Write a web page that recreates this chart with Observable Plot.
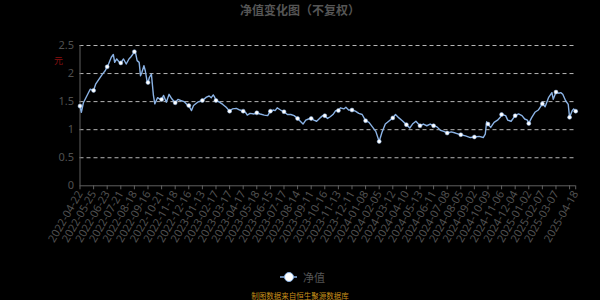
<!DOCTYPE html>
<html>
<head>
<meta charset="utf-8">
<script src="https://cdn.jsdelivr.net/npm/d3@7"></script>
<script src="https://cdn.jsdelivr.net/npm/@observablehq/plot@0.6"></script>
<style>
  html, body { margin: 0; padding: 0; background: #000; }
  #wrap { position: relative; width: 600px; height: 300px; background: #000; overflow: hidden;
          font-family: "Noto Sans CJK SC", "Noto Sans", sans-serif; }
  #wrap svg { position: absolute; left: 0; top: 0; }
  .title { position: absolute; left: 0; width: 600px; top: 1px; text-align: center;
           font-size: 12px; font-weight: bold; color: #555; }
  .legend { position: absolute; top: 269px; left: 280px; height: 16px; font-size: 11px; color: #555; }
  .footer { position: absolute; left: 0; width: 600px; top: 290px; text-align: center;
            font-size: 7.5px; color: #c8901a; }
</style>
</head>
<body>
<div id="wrap">
  <div class="title">净值变化图（不复权）</div>
</div>
<script>
// trading-day index (0 = 2022-04-22) and net asset value
const dayIndex = [0,2,5,10,15,20,23,28,33,37,40,42,46,49,51,54,58,60,64,68,72,75,78,80,82,84,87,89,91,94,96,99,100,102,105,108,110,114,117,120,123,127,131,135,140,144,148,153,158,160,164,167,173,180,186,190,193,196,198,200,205,210,215,220,224,230,235,240,244,246,250,256,260,265,271,276,280,284,287,290,295,300,305,310,315,320,324,328,332,336,340,344,348,353,357,360,364,368,372,376,380,383,388,391,395,400,405,410,415,420,425,430,435,440,444,449,454,460,464,469,474,480,485,489,494,500,505,510,515,520,525,530,535,540,546,552,560,567,574,580,587,593,596,598,600,604,609,614,618,620,626,629,634,640,645,650,654,658,660,664,669,674,680,684,689,694,696,700,704,707,710,714,718,720,724,726,729];
const nav = [1.42,1.31,1.48,1.60,1.72,1.70,1.81,1.90,1.99,2.05,2.12,2.17,2.29,2.34,2.20,2.26,2.20,2.19,2.26,2.17,2.26,2.30,2.35,2.39,2.35,2.23,2.20,1.96,2.02,2.14,2.05,1.84,1.84,1.93,1.99,1.61,1.46,1.57,1.55,1.54,1.61,1.49,1.63,1.55,1.48,1.54,1.52,1.50,1.44,1.43,1.34,1.43,1.49,1.52,1.58,1.60,1.57,1.62,1.58,1.52,1.49,1.45,1.40,1.33,1.37,1.38,1.35,1.33,1.30,1.26,1.29,1.28,1.30,1.28,1.26,1.25,1.33,1.35,1.34,1.39,1.35,1.32,1.27,1.27,1.25,1.20,1.15,1.10,1.17,1.19,1.20,1.17,1.15,1.21,1.25,1.25,1.20,1.23,1.27,1.34,1.34,1.39,1.37,1.40,1.35,1.35,1.33,1.29,1.27,1.16,1.13,1.05,0.97,0.79,0.95,1.10,1.15,1.21,1.27,1.21,1.16,1.09,1.03,1.10,1.15,1.07,1.10,1.07,1.10,1.07,1.05,0.99,0.97,0.94,0.96,0.94,0.91,0.89,0.86,0.87,0.88,0.86,0.92,1.14,1.10,1.04,1.13,1.17,1.22,1.27,1.25,1.17,1.15,1.25,1.28,1.25,1.19,1.17,1.11,1.21,1.31,1.35,1.46,1.41,1.57,1.66,1.54,1.67,1.65,1.66,1.63,1.52,1.45,1.22,1.34,1.37,1.33];
// x tick labels (every 20 trading days, plus the last day)
const tickIndex = [0,20,40,60,80,100,120,140,160,180,200,220,240,260,280,300,320,340,360,380,400,420,440,460,480,500,520,540,560,580,600,620,640,660,680,700,720,729];
const tickLabels = ["2022-04-22","2022-05-25","2022-06-23","2022-07-21","2022-08-18","2022-09-16","2022-10-21","2022-11-18","2022-12-16","2023-01-13","2023-02-17","2023-03-17","2023-04-17","2023-05-18","2023-06-15","2023-07-17","2023-08-14","2023-09-11","2023-10-16","2023-11-13","2023-12-11","2024-01-08","2024-02-05","2024-03-12","2024-04-10","2024-05-13","2024-06-11","2024-07-08","2024-08-05","2024-09-02","2024-10-09","2024-11-06","2024-12-04","2025-01-02","2025-02-07","2025-03-07","","2025-04-18"];
const yTicks = [0, 0.5, 1, 1.5, 2, 2.5];
const seriesName = "净值";
const unitName = "元";

const data = dayIndex.map((d, k) => ({i: d, v: nav[k]}));
const markers = data.filter(d => d.i % 20 === 0 || d.i === 729);
const labelOf = new Map(tickIndex.map((t, k) => [t, tickLabels[k]]));

const lineColor = "#8ab2e4";
const axisColor = "#606060";
const labelColor = "#505050";

const chart = Plot.plot({
  width: 600,
  height: 300,
  marginLeft: 79.5,
  marginRight: 24.8,
  marginTop: 45,
  marginBottom: 114.7,
  style: {background: "transparent", color: labelColor, fontSize: "11px", fontFamily: "'Noto Sans', 'DejaVu Sans', sans-serif"},
  x: {type: "linear", domain: [0, 729]},
  y: {domain: [0, 2.5]},
  marks: [
    Plot.ruleY(yTicks.filter(t => t > 0), {stroke: "#b5b5b5", strokeDasharray: "4,3", strokeWidth: 1}),
    Plot.ruleY([0], {stroke: axisColor}),
    Plot.ruleX([0], {stroke: axisColor}),
    Plot.axisY({ticks: yTicks, tickSize: 0, tickPadding: 6, tickFormat: d => String(d), label: null, fill: labelColor}),
    Plot.axisX({ticks: tickIndex, tickSize: 4, stroke: axisColor, tickRotate: -60, tickPadding: 2,
                tickFormat: d => labelOf.get(d), label: null, fill: labelColor}),
    Plot.text([unitName], {frameAnchor: "top-left", dx: -26, dy: 12, fill: "#8a1010", fontSize: 9,
                           fontFamily: "Noto Sans CJK SC"}),
    Plot.line(data, {x: "i", y: "v", stroke: lineColor, strokeWidth: 1.4}),
    Plot.dot(markers, {x: "i", y: "v", r: 2, fill: "#fff", stroke: lineColor, strokeWidth: 0.5})
  ]
});
const wrap = document.getElementById("wrap");
wrap.appendChild(chart);

const legend = document.createElement("div");
legend.className = "legend";
legend.innerHTML = `<svg width="22" height="16" style="position:absolute;left:0;top:0">
  <line x1="0" x2="17" y1="8" y2="8" stroke="${lineColor}" stroke-width="1.5"></line>
  <circle cx="9" cy="8" r="4.5" fill="#fff" stroke="${lineColor}" stroke-width="1"></circle></svg>
  <span style="position:absolute;left:23px;top:0px;white-space:nowrap;line-height:16px">${seriesName}</span>`;
wrap.appendChild(legend);

const footer = document.createElement("div");
footer.className = "footer";
footer.textContent = "制图数据来自恒生聚源数据库";
wrap.appendChild(footer);
</script>
</body>
</html>
